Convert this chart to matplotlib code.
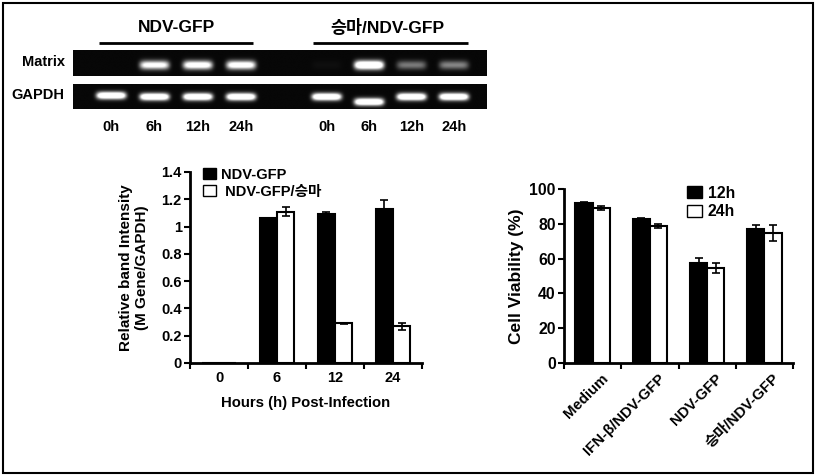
import numpy as np
import matplotlib
matplotlib.use('Agg')
import matplotlib.pyplot as plt
import matplotlib.transforms as mtransforms
from matplotlib.patches import Patch, Rectangle

plt.rcParams['font.family'] = ['Liberation Sans', 'Noto Sans CJK KR']
plt.rcParams['font.weight'] = 'bold'
plt.rcParams['axes.labelweight'] = 'bold'

# --- gel band data (relative brightness per lane) ---
lane_labels = ['0h', '6h', '12h', '24h']
group_titles = ['NDV-GFP', '승마/NDV-GFP']
matrix_bands = [[0.0, 0.72, 0.78, 0.78], [0.02, 1.0, 0.30, 0.33]]
gapdh_bands = [[1.0, 1.0, 1.0, 1.0], [1.0, 1.0, 1.0, 1.0]]

# --- RT-PCR quantification ---
hours = ['0', '6', '12', '24']
ndv_gfp = [0, 1.06, 1.09, 1.13]
ndv_gfp_err = [0, 0, 0.015, 0.065]
ndv_sm = [0, 1.11, 0.29, 0.27]
ndv_sm_err = [0, 0.03, 0.006, 0.025]

# --- cell viability ---
treatments = ['Medium', 'IFN-β/NDV-GFP', 'NDV-GFP', '승마/NDV-GFP']
via_12h = [92, 82.5, 57.5, 77]
via_12h_err = [0.5, 1.0, 2.8, 2.2]
via_24h = [89, 78.8, 54.5, 74.5]
via_24h_err = [1.3, 1.3, 3.0, 4.6]

W, H = 816, 476
fig = plt.figure(figsize=(W / 100, H / 100), dpi=100)


def px_axes(x0, y0, x1, y1):
    # axes from pixel box (top-left origin)
    return fig.add_axes([x0 / W, 1 - y1 / H, (x1 - x0) / W, (y1 - y0) / H])


# outer frame
fig.patches.append(Rectangle((3 / W, 3 / H), 810 / W, 470 / H, transform=fig.transFigure,
                             fill=False, edgecolor='black', linewidth=1.5))

# ---------------- gel ----------------
gel_w = 9.56
offsets = [0.88, 5.86]
steps = [1.0, 0.98]


def lane_x(g, i):
    return offsets[g] + steps[g] * i


def draw_strip(ax, bands, yc, sy, shift=None):
    nx, ny = 960, 60
    xs = np.linspace(0, gel_w, nx)
    ys = np.linspace(1, 0, ny)
    X, Y = np.meshgrid(xs, ys)
    img = np.full_like(X, 0.03)
    for g in range(2):
        for i, amp in enumerate(bands[g]):
            c = yc
            if shift is not None:
                c = yc + shift[g][i]
            prof = np.exp(-np.abs((X - lane_x(g, i)) / 0.34) ** 6) * np.exp(-((Y - c) / sy) ** 2)
            img += np.clip(amp * 1.5 * prof, 0, 1)
    ax.imshow(np.clip(img, 0, 1), cmap='gray', vmin=0, vmax=1, aspect='auto',
              extent=[0, gel_w, 0, 1], interpolation='bilinear')
    ax.set_xlim(0, gel_w)
    ax.set_ylim(0, 1)
    ax.axis('off')


ax_m = px_axes(73, 50, 487, 76)
draw_strip(ax_m, matrix_bands, 0.42, 0.17)
ax_g = px_axes(73, 84, 487, 109)
draw_strip(ax_g, gapdh_bands, 0.47, 0.14, shift=[[0.05, 0, 0, 0], [0, -0.2, 0, 0]])

ax_m.text(-0.02, 0.55, 'Matrix', transform=ax_m.transAxes, ha='right', va='center', fontsize=10.5)
ax_g.text(-0.02, 0.55, 'GAPDH', transform=ax_g.transAxes, ha='right', va='center', fontsize=10.5)

for g in range(2):
    center = (lane_x(g, 0) + lane_x(g, 3)) / 2
    ax_m.plot([center - 1.78, center + 1.78], [1.27, 1.27], color='black', lw=2,
              clip_on=False, solid_capstyle='butt')
    ax_m.text(center - 0.08 * g, 1.88, group_titles[g], ha='center', va='center', fontsize=12.5)
    for i, lab in enumerate(lane_labels):
        ax_g.text(lane_x(g, i), -0.7, lab, ha='center', va='center', fontsize=10.5,
                  transform=ax_g.get_xaxis_transform())


# ---------------- bar charts ----------------
def style_axes(ax, n, fs):
    for s in ['top', 'right']:
        ax.spines[s].set_visible(False)
    for s in ['left', 'bottom']:
        ax.spines[s].set_linewidth(2)
    ax.set_xlim(-0.5, n - 0.5)
    ax.set_xticks(np.arange(n))
    ax.set_xticks(np.arange(n + 1) - 0.5, minor=True)
    ax.tick_params(axis='x', which='major', length=0, labelsize=fs, pad=6)
    ax.tick_params(axis='x', which='minor', length=4, width=1.5, direction='out')
    ax.tick_params(axis='y', length=4, width=1.5, labelsize=fs, pad=2)


def draw_pairs(ax, a, a_err, b, b_err, bw):
    x = np.arange(len(a))
    ax.bar(x - bw / 2, a, bw, color='black', edgecolor='black', linewidth=1.5, zorder=2)
    ax.bar(x + bw / 2, b, bw, color='white', edgecolor='black', linewidth=1.5, zorder=2)
    for xs, vals, errs in [(x - bw / 2, a, a_err), (x + bw / 2, b, b_err)]:
        errs = np.array(errs, dtype=float)
        m = errs > 0
        ax.errorbar(xs[m], np.array(vals)[m], yerr=errs[m], fmt='none', ecolor='black',
                    elinewidth=1.2, capsize=3, capthick=1.2, zorder=3)


# left: relative band intensity
ax1 = px_axes(190, 172, 422, 363)
draw_pairs(ax1, ndv_gfp, ndv_gfp_err, ndv_sm, ndv_sm_err, 0.3)
style_axes(ax1, len(hours), 10.5)
ax1.set_ylim(0, 1.4)
ax1.set_yticks(np.arange(0, 1.41, 0.2))
ax1.set_yticklabels(['%g' % round(v, 1) for v in np.arange(0, 1.41, 0.2)])
ax1.set_xticklabels(hours)
ax1.set_ylabel('Relative band Intensity\n(M Gene/GAPDH)', fontsize=11, labelpad=9,
               linespacing=1.1)
ax1.set_xlabel('Hours (h) Post-Infection', fontsize=10.7, labelpad=8)
ax1.legend(handles=[Patch(facecolor='black', edgecolor='black'),
                    Patch(facecolor='white', edgecolor='black')],
           labels=['NDV-GFP', ' NDV-GFP/승마'], loc='upper left',
           bbox_to_anchor=(0.025, 1.06), frameon=False, fontsize=10.5,
           handlelength=0.9, handleheight=0.8, handletextpad=0.3, labelspacing=0.2,
           borderpad=0)

# right: cell viability
ax2 = px_axes(564, 189, 793, 363)
draw_pairs(ax2, via_12h, via_12h_err, via_24h, via_24h_err, 0.3)
style_axes(ax2, len(treatments), 11.3)
ax2.set_ylim(0, 100)
ax2.set_yticks(np.arange(0, 101, 20))
ax2.set_xticklabels(treatments, rotation=45, ha='right', va='top', rotation_mode='anchor',
                    fontsize=10.8)
shift = mtransforms.ScaledTranslation(8 / 100, 0, fig.dpi_scale_trans)
for lab in ax2.get_xticklabels():
    lab.set_transform(lab.get_transform() + shift)
ax2.set_ylabel('Cell Viability (%)', fontsize=12.5, labelpad=4)
ax2.legend(handles=[Patch(facecolor='black', edgecolor='black'),
                    Patch(facecolor='white', edgecolor='black')],
           labels=['12h', '24h'], loc='upper left',
           bbox_to_anchor=(0.505, 1.065), frameon=False, fontsize=11.3,
           handlelength=0.9, handleheight=0.8, handletextpad=0.4, labelspacing=0.25,
           borderpad=0)

fig.savefig('out.png', dpi=100)
